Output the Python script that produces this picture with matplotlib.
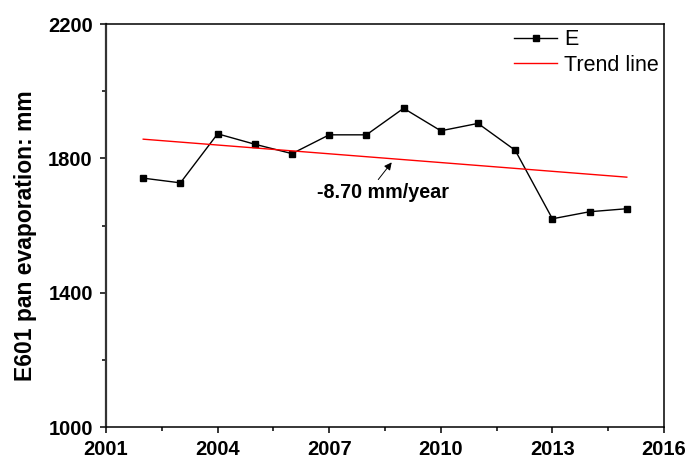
import numpy as np
import matplotlib.pyplot as plt
from matplotlib.ticker import MultipleLocator

plt.rcParams['font.family'] = ['Liberation Sans', 'DejaVu Sans']

years = [2002, 2003, 2004, 2005, 2006, 2007, 2008, 2009, 2010, 2011, 2012, 2013, 2014, 2015]
evap = [1741, 1727, 1873, 1842, 1814, 1870, 1870, 1949, 1882, 1904, 1824, 1620, 1641, 1650]
slope = -8.70  # mm/year

# trend line through the mean point with the stated slope
yrs = np.array(years, dtype=float)
x0, y0 = yrs.mean(), np.mean(evap)
trend = y0 + slope * (yrs - x0)

fig = plt.figure(figsize=(6.88, 4.59), dpi=100)
ax = fig.add_axes([0.1541, 0.0697, 0.811, 0.878])

ax.plot(years, evap, color='black', lw=1.0, marker='s', ms=4.5, label='E')
ax.plot(years, trend, color='red', lw=1.0, label='Trend line')

ax.set_xlim(2001, 2016)
ax.set_ylim(1000, 2200)
ax.set_xticks([2001, 2004, 2007, 2010, 2013, 2016])
ax.xaxis.set_minor_locator(MultipleLocator(1.5))
ax.set_yticks([1000, 1400, 1800, 2200])
ax.set_yticks([1200, 1600, 2000], minor=True)
ax.tick_params(which='major', direction='out', length=4.5, width=1.1,
               labelsize=14.5, pad=5)
ax.tick_params(which='minor', direction='out', length=2.8, width=1.1)
for lbl in ax.get_xticklabels() + ax.get_yticklabels():
    lbl.set_fontweight('bold')
for sp in ax.spines.values():
    sp.set_linewidth(1.1)
ax.spines['left'].set_linewidth(1.6)
ax.spines['left'].set_color('#333333')

ax.set_ylabel('E601 pan evaporation: mm', fontsize=16.5, fontweight='bold')
ax.yaxis.set_label_coords(-0.124, 0.474)

ax.annotate('-8.70 mm/year', xy=(2008.68, 1788), xytext=(2008.45, 1697),
            fontsize=14.2, fontweight='bold', ha='center', va='center',
            arrowprops=dict(arrowstyle='-|>', color='black', lw=0.7,
                            mutation_scale=11, shrinkA=1, shrinkB=0,
                            relpos=(0.44, 1.0)))

ax.legend(loc='upper right', frameon=False, fontsize=15.5, handlelength=2.0,
          borderaxespad=0.05, borderpad=0.2, labelspacing=0.2, handletextpad=0.3)

fig.savefig('out.png', dpi=100)
